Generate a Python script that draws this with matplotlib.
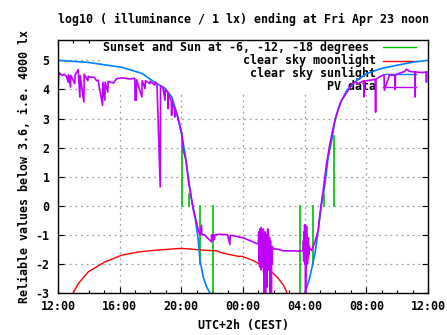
import matplotlib
matplotlib.use("Agg")
import matplotlib.pyplot as plt
from matplotlib.lines import Line2D
from matplotlib.patches import Rectangle

# ---------------- data (hours since Thu 12:00 CEST) ----------------
x_tick_hours = [0, 4, 8, 12, 16, 20, 24]
x_tick_labels = ["12:00", "16:00", "20:00", "00:00", "04:00", "08:00", "12:00"]
y_ticks = [-3, -2, -1, 0, 1, 2, 3, 4, 5]

# clear sky sunlight
sun_hours = [0.00, 1.95, 4.15, 5.45, 6.29, 6.94, 7.39, 7.78, 8.02, 8.24, 8.45,
             8.67, 8.89, 9.10, 9.21, 9.42, 9.64, 9.86, 10.0]
sun_vals = [5.00, 4.93, 4.76, 4.55, 4.24, 4.04, 3.73, 3.05, 2.48, 1.79, 0.99,
            0.19, -0.38, -1.19, -1.87, -2.45, -2.79, -3.0, -3.3]
sun2_hours = [15.95, 16.02, 16.34, 16.67, 16.88, 17.10, 17.32, 17.53, 17.75,
              17.97, 18.29, 18.73, 19.38, 20.02, 20.89, 21.97, 23.05, 24.0]
sun2_vals = [-3.3, -3.0, -2.45, -1.64, -0.84, 0.08, 0.76, 1.68, 2.25,
             2.94, 3.51, 3.97, 4.31, 4.54, 4.71, 4.83, 4.94, 5.00]

# clear sky moonlight
moon_hours = [0.90, 0.99, 1.32, 1.97, 3.05, 4.13, 5.21, 6.29, 7.80, 8.13, 9.53,
              10.29, 10.62, 11.70, 11.95, 12.60, 13.21, 13.86, 14.29, 14.62,
              14.83, 14.95]
moon_vals = [-3.3, -3.0, -2.67, -2.27, -1.93, -1.70, -1.59, -1.53, -1.47, -1.47,
             -1.53, -1.55, -1.62, -1.74, -1.74, -1.87, -2.04, -2.27, -2.50,
             -2.73, -2.96, -3.2]

# sunset / sunrise and sun at -6, -12, -18 degrees (time, line end value)
event_hours = [8.02, 8.52, 9.23, 10.07, 15.72, 16.56, 17.24, 17.88]
event_vals = [2.5, 0.4, -2.0, -3.5, -3.5, -2.0, 0.4, 2.4]

# PV data
pv_hours = [0.00, 0.02, 0.04, 0.08, 0.15, 0.25, 0.40, 0.55, 0.66, 0.68, 0.81, 0.83,
            1.09, 1.11, 1.31, 1.33, 1.42, 1.44, 1.68, 1.70, 1.94, 1.96, 2.10,
            2.35, 2.50, 2.60, 2.89, 2.91, 3.04, 3.06, 3.23, 3.25, 3.60, 3.80,
            4.20, 4.60, 4.98, 5.00, 5.08, 5.10, 5.44, 5.46, 5.65, 5.67, 5.95,
            5.97, 6.28, 6.30, 6.42, 6.63, 6.65, 6.80, 6.94, 6.96, 7.12, 7.15,
            7.17, 7.35, 7.37, 7.39, 7.55, 7.58, 7.60, 7.70, 7.80, 7.91, 8.02,
            8.08, 8.13, 8.30, 8.45, 8.56, 8.67, 8.78, 9.00, 9.10, 9.21, 9.31,
            9.33, 9.50, 9.95, 9.97, 10.05, 10.07, 10.15, 10.17, 10.50, 11.00,
            11.15, 11.17, 11.30, 11.80, 12.10, 12.55, 12.90,
            13.00, 13.02, 13.04, 13.06, 13.08, 13.10, 13.12, 13.14, 13.16,
            13.18, 13.20, 13.22, 13.24, 13.26, 13.28, 13.30, 13.32, 13.34,
            13.36, 13.38, 13.40, 13.42, 13.44, 13.46, 13.48, 13.50, 13.52,
            13.54, 13.56, 13.58, 13.60, 13.62, 13.64, 13.66, 13.68, 13.70,
            13.72, 13.74, 13.76, 13.78, 13.80, 13.82, 13.84, 13.86, 13.88,
            13.90, 13.93, 13.95, 14.30, 14.60, 15.00, 15.50, 15.90,
            15.92, 15.94, 15.96, 15.98, 16.00, 16.02, 16.04, 16.06, 16.08,
            16.10, 16.12, 16.14, 16.16, 16.18, 16.20, 16.22, 16.24, 16.26,
            16.30, 16.35, 16.46, 16.67, 16.88, 16.99, 17.20, 17.42, 17.64,
            17.86, 18.08, 18.40, 18.83, 19.07, 19.30, 19.50, 19.83, 19.85,
            19.87, 20.00, 20.30, 20.58, 20.60, 20.62, 20.90, 21.15, 21.17,
            21.50, 21.85, 21.87, 21.89, 22.10, 22.50, 22.60, 22.80, 23.14,
            23.16, 23.18, 23.60, 23.88, 23.90, 23.92, 24.00]
pv_vals = [4.70, 4.15, 4.60, 4.50, 4.55, 4.48, 4.52, 4.45, 4.25, 4.50, 4.08, 4.48,
           4.20, 4.50, 4.68, 4.47, 3.74, 4.47, 3.57, 4.52, 4.30, 4.45, 4.42,
           4.42, 4.30, 4.32, 3.45, 4.25, 3.63, 4.25, 3.91, 4.28, 4.22, 4.37,
           4.40, 4.36, 4.38, 3.63, 3.63, 4.33, 3.74, 4.30, 4.03, 4.30, 4.20,
           4.28, 4.15, 4.25, 4.20, 0.65, 4.12, 4.08, 3.63, 4.00, 3.90, 3.34,
           3.85, 3.60, 3.11, 3.60, 3.34, 3.05, 3.30, 3.17, 2.95, 2.71, 2.48,
           2.20, 1.90, 1.56, 0.88, 0.53, 0.19, -0.15, -0.61, -0.84, -1.00, -0.67,
           -1.00, -1.00, -1.24, -1.00, -1.20, -1.00, -1.15, -1.00, -0.98, -1.00,
           -1.33, -1.02, -1.02, -1.08, -1.12, -1.22, -1.30,
           -1.3, -0.9, -1.9, -1.0, -2.1, -0.8, -1.8, -1.1, -2.2,
           -0.75, -1.6, -2.0, -0.9, -2.1, -1.2, -1.9, -0.8, -2.3,
           -1.0, -3.0, -1.1, -2.6, -0.9, -3.0, -1.3, -2.4, -1.0,
           -2.8, -1.2, -2.0, -0.8, -1.9, -1.0, -2.2, -1.3, -1.7,
           -1.1, -1.9, -3.0, -1.2, -2.6, -1.4, -3.0, -1.5, -2.0,
           -1.4, -1.5, -1.47, -1.50, -1.55, -1.55, -1.56, -1.55,
           -1.2, -1.9, -0.9, -1.8, -0.65, -2.0, -1.0, -3.0, -1.0,
           -2.1, -0.7, -1.9, -1.0, -2.0, -1.2, -1.8, -1.1, -1.7,
           -1.4, -1.5, -1.53, -1.24, -0.84, -0.27, 0.53, 1.45, 2.14,
           2.71, 3.17, 3.63, 3.97, 4.20, 4.25, 4.20, 4.30, 3.74,
           4.28, 4.30, 4.32, 4.35, 3.22, 4.35, 4.45, 4.50, 3.97,
           4.50, 4.48, 4.00, 4.50, 4.55, 4.62, 4.70, 4.62, 4.60,
           3.74, 4.60, 4.58, 4.60, 4.25, 4.60, 4.60]

labels = ["Sunset and Sun at -6, -12, -18 degrees", "clear sky moonlight",
          "clear sky sunlight", "PV data"]
colors = ["#00c000", "#ff0000", "#0080ff", "#c000ff"]

# ---------------- figure ----------------
W, H = 447, 335
plt.rcParams['font.family'] = ['DejaVu Sans Mono']
plt.rcParams['font.weight'] = 'bold'
FS = 8.4

fig = plt.figure(figsize=(W / 100, H / 100), dpi=100)
ax = fig.add_axes([58 / W, 1 - 293 / H, 370 / W, 253 / H])

def fx(x):
    return x / W

def fy(y):
    return 1 - y / H

ax.set_xlim(0, 24)
ax.set_ylim(-3, 5.7)

# grid
ax.set_xticks(x_tick_hours)
ax.set_xticklabels(x_tick_labels, fontsize=FS, fontweight='bold')
ax.set_xticks(range(0, 25), minor=True)
ax.set_yticks(y_ticks)
ax.set_yticklabels([str(v) for v in y_ticks], fontsize=FS, fontweight='bold')
ax.tick_params(which='both', direction='in', top=True, right=True, color='black')
ax.tick_params(which='major', length=4.5, width=0.8)
ax.tick_params(which='minor', length=2.2, width=0.8)
ax.tick_params(axis='x', pad=5)
ax.tick_params(axis='y', pad=6)
ax.grid(True, which='major', color='#a0a0a0', linestyle=(0, (1.5, 3)), linewidth=0.9)
ax.set_axisbelow(True)
for s in ax.spines.values():
    s.set_linewidth(1.0)
    s.set_zorder(5)

# opaque key box
ax.add_patch(Rectangle((fx(100), fy(93)), fx(428) - fx(100), fy(40) - fy(93),
                       transform=fig.transFigure, facecolor='white',
                       edgecolor='none', zorder=1.7))
row_y = [47.3, 60.6, 73.6, 86.7]
text_right = [369, 376, 376, 376]
for lab, col, yy, xr in zip(labels, colors, row_y, text_right):
    ax.text(fx(xr), fy(yy), lab, transform=fig.transFigure, ha='right',
            va='center', fontsize=FS, fontweight='bold', zorder=1.8)
    ax.add_line(Line2D([fx(383), fx(416)], [fy(yy), fy(yy)],
                       transform=fig.transFigure, color=col, lw=1.0,
                       zorder=1.8))

# data
for h, v in zip(event_hours, event_vals):
    ax.plot([h, h], [0, v], color=colors[0], lw=1.2, zorder=2)
ax.plot(moon_hours, moon_vals, color=colors[1], lw=1.0, zorder=2.1)
ax.plot(sun_hours, sun_vals, color=colors[2], lw=1.2, zorder=2.2)
ax.plot(sun2_hours, sun2_vals, color=colors[2], lw=1.2, zorder=2.2)
ax.plot(pv_hours, pv_vals, color=colors[3], lw=1.2, zorder=2.3)

# titles
fig.text(fx(243), fy(19), "log10 ( illuminance / 1 lx) ending at Fri Apr 23 noon",
         ha='center', va='center', fontsize=FS, fontweight='bold')
fig.text(fx(243), fy(325.5), "UTC+2h (CEST)", ha='center', va='center',
         fontsize=FS, fontweight='bold')
fig.text(fx(25), fy(166.5), "Reliable values below 3.6, i.e. 4000 lx",
         ha='center', va='center', rotation=90, fontsize=FS, fontweight='bold')

fig.savefig("out.png", dpi=100)
